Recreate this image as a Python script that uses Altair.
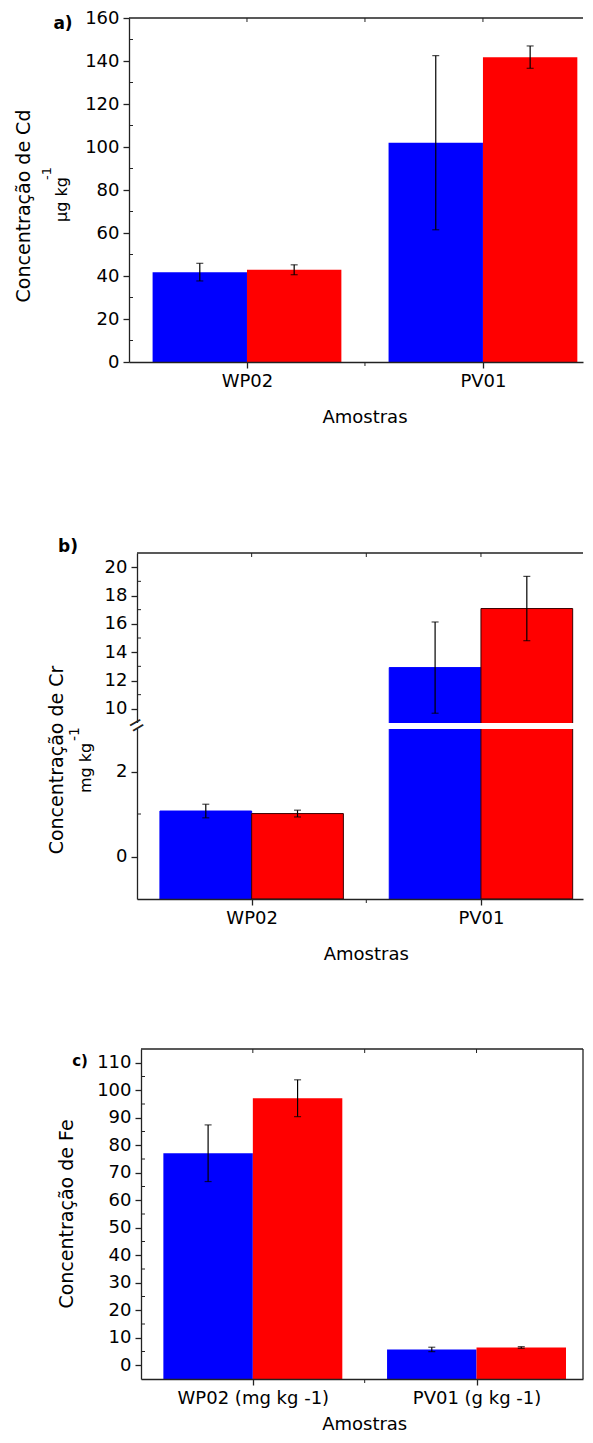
import altair as alt
import pandas as pd

FONT = "DejaVu Sans"
BLUE = "#0000FF"
RED = "#FF0000"
INK = "#222222"
BAR = 0.4

categories = ["WP02", "PV01"]
fe_categories = ["WP02 (mg kg -1)", "PV01 (g kg -1)"]
series = ["S1", "S2"]

# a) Cd (ug kg-1)
cd_blue = [41.8, 102.0]
cd_blue_err = [4.1, 40.5]
cd_red = [42.9, 141.8]
cd_red_err = [2.3, 5.2]
cd_ticks = [0, 20, 40, 60, 80, 100, 120, 140, 160]
cd_minor = [10, 30, 50, 70, 90, 110, 130, 150]

# b) Cr (mg kg-1), broken axis
cr_blue = [1.07, 12.91]
cr_blue_err = [0.16, 3.22]
cr_red = [1.01, 17.08]
cr_red_err = [0.08, 2.27]
cr_ticks = [0, 2, 10, 12, 14, 16, 18, 20]
cr_minor = [1, 11, 13, 15, 17, 19]
cr_break = [3, 9]

# c) Fe
fe_blue = [77.1, 5.75]
fe_blue_err = [10.3, 0.8]
fe_red = [97.1, 6.47]
fe_red_err = [6.7, 0.3]
fe_ticks = [0, 10, 20, 30, 40, 50, 60, 70, 80, 90, 100, 110]
fe_minor = [5, 15, 25, 35, 45, 55, 65, 75, 85, 95, 105]

ONE = pd.DataFrame({"k": [0]})
W = 454


def bar_table(blue, blue_err, red, red_err, base):
    rows = []
    for i, cat in enumerate(categories):
        for s, vals, errs, left in ((series[0], blue, blue_err, i - BAR),
                                    (series[1], red, red_err, i)):
            rows.append({"cat": cat, "serie": s, "x0": left, "x1": left + BAR,
                         "xc": left + BAR / 2, "v": vals[i],
                         "lo": vals[i] - errs[i], "hi": vals[i] + errs[i],
                         "base": base})
    return pd.DataFrame(rows)


def txt(text, x, y, size, angle=0, align="center", baseline="middle", bold=False):
    kw = dict(text=text, font=FONT, fontSize=size, color="black",
              align=align, baseline=baseline)
    if angle:
        kw["angle"] = angle
    if bold:
        kw["fontWeight"] = "bold"
    return alt.Chart(ONE).mark_text(**kw).encode(x=alt.value(x), y=alt.value(y))


def panel(df, labels, xdom, x0px, height, ydom, yticks, yminor, spacer, texts,
          amostras_dy, yrange=None, right_border=False, red_outline=False, brk=None):
    xs = alt.Scale(domain=xdom, range=[x0px, W], nice=False, zero=False)
    yk = dict(domain=ydom, nice=False, zero=False)
    if yrange is not None:
        yk["range"] = yrange
    ys = alt.Scale(**yk)
    common = dict(grid=False, title=None, tickColor=INK, tickWidth=1.3, tickSize=6,
                  domainColor=INK, domainWidth=1.3, labelFont=FONT,
                  labelColor="black", labelOverlap=False, labelFlush=False)
    label_expr = "[" + ", ".join("'%s'" % l for l in labels) + "][datum.value]"
    xax = alt.Axis(values=list(range(len(labels))), labelExpr=label_expr,
                   labelFontSize=18, labelPadding=4, zindex=1, **common)
    yax = alt.Axis(values=yticks, format="d", labelFontSize=18, labelPadding=4,
                   zindex=0, offset=-x0px, **common)

    def X(f):
        return alt.X(f, type="quantitative", scale=xs, axis=xax)

    def Y(f):
        return alt.Y(f, type="quantitative", scale=ys, axis=yax)

    L, T, B = spacer
    layers = [alt.Chart(ONE).mark_rule(opacity=0, strokeWidth=0.1).encode(
        x=alt.value(-L), y=alt.value(-T), y2=alt.value(B))]

    fill = alt.Fill("serie:N", scale=alt.Scale(domain=series, range=[BLUE, RED]), legend=None)
    enc = dict(x=X("x0"), x2=alt.X2("x1"), y=Y("v"), y2=alt.Y2("base"), fill=fill)
    if red_outline:
        enc["stroke"] = alt.Stroke("serie:N", scale=alt.Scale(domain=series, range=[BLUE, "#3a0000"]),
                                   legend=None)
        layers.append(alt.Chart(df).mark_rect(strokeWidth=1).encode(**enc))
    else:
        layers.append(alt.Chart(df).mark_rect().encode(**enc))

    if brk is not None:
        lo, hi = brk
        pv = df[df.cat == categories[1]]
        gap = pd.DataFrame({"a": [pv.x0.min() - 0.006], "b": [pv.x1.max() + 0.006],
                            "lo": [lo], "hi": [hi], "mid": [(lo + hi) / 2]})
        layers.append(alt.Chart(gap).mark_rect(fill="white").encode(
            x=X("a"), x2=alt.X2("b"), y=Y("lo"), y2=alt.Y2("hi")))
        layers.append(alt.Chart(gap).mark_rect(fill="white").encode(
            x=alt.value(x0px - 4), x2=alt.value(x0px + 4), y=Y("lo"), y2=alt.Y2("hi")))
        layers.append(alt.Chart(gap).mark_text(text="=", font="Liberation Sans", fontSize=24,
                                               angle=330, color=INK).encode(
            x=alt.value(x0px), y=Y("mid")))

    layers.append(alt.Chart(df).mark_rule(color="black", strokeWidth=1.2).encode(
        x=X("xc"), y=Y("lo"), y2=alt.Y2("hi")))
    for f in ("lo", "hi"):
        layers.append(alt.Chart(df).mark_tick(orient="horizontal", size=7, thickness=1.2,
                                              color="black").encode(x=X("xc"), y=Y(f)))

    fr = pd.DataFrame({"a": [xdom[0]], "b": [xdom[1]]})
    layers.append(alt.Chart(fr).mark_rule(color=INK, strokeWidth=1.3).encode(
        x=X("a"), x2=alt.X2("b"), y=alt.value(0)))
    if right_border:
        layers.append(alt.Chart(fr).mark_rule(color=INK, strokeWidth=1.3).encode(
            x=X("b"), y=alt.value(0), y2=alt.value(height)))

    top_t = pd.DataFrame({"t": [0, 0.5, 1]})
    layers.append(alt.Chart(top_t).mark_rule(color=INK, strokeWidth=1).encode(
        x=X("t"), y=alt.value(0), y2=alt.value(4)))
    mid_t = pd.DataFrame({"t": [0.5]})
    layers.append(alt.Chart(mid_t).mark_rule(color=INK, strokeWidth=1).encode(
        x=X("t"), y=alt.value(height), y2=alt.value(height + 4)))
    layers.append(alt.Chart(pd.DataFrame({"m": yminor})).mark_rule(color=INK, strokeWidth=1).encode(
        x=alt.value(x0px), x2=alt.value(x0px + 4), y=Y("m")))

    dy, base = amostras_dy
    layers.append(alt.Chart(mid_t).mark_text(text="Amostras", font=FONT, fontSize=18,
                                             color="black", baseline=base).encode(
        x=X("t"), y=alt.value(height + dy)))
    layers.extend(texts)
    return alt.layer(*layers).properties(width=W, height=height)


# panel a
HA = 344
pa = panel(
    bar_table(cd_blue, cd_blue_err, cd_red, cd_red_err, 0),
    categories, [-0.5, 1.424], 0, HA, [0, 160], cd_ticks, cd_minor,
    (121, 10, 452),
    [txt("a)", -66, 6, 17, bold=True),
     txt("Concentração de Cd", -99, 188, 19, angle=270, baseline="alphabetic"),
     txt("μg kg", -62, 204, 16, angle=270, align="left", baseline="alphabetic"),
     txt("-1", -78, 162, 13, angle=270, align="left", baseline="alphabetic")],
    (56, "middle"))

# panel b
HB = 346
pb = panel(
    bar_table(cr_blue, cr_blue_err, cr_red, cr_red_err, -1),
    categories, [-0.5, 1.445], 8, HB, [-1, cr_break[0], cr_break[1], 21], cr_ticks, cr_minor,
    (100, 83, 447),
    [txt("b)", -61, -6, 17, bold=True),
     txt("Concentração de Cr", -66, 207, 19, angle=270, baseline="alphabetic"),
     txt("mg kg", -38, 240, 16, angle=270, align="left", baseline="alphabetic"),
     txt("-1", -50, 188, 14, angle=270, align="left", baseline="alphabetic")],
    (56, "middle"), yrange=[HB, 176, 170, 0], red_outline=True, brk=cr_break)

# panel c
HC = 330
pc = panel(
    bar_table(fe_blue, fe_blue_err, fe_red, fe_red_err, -5),
    fe_categories, [-0.5, 1.476], 12, HC, [-5, 115], fe_ticks, fe_minor,
    (100, 49, HC + 40),
    [txt("c)", -49, 12, 15, bold=True),
     txt("Concentração de Fe", -56, 165, 19, angle=270, baseline="alphabetic")],
    (51, "alphabetic"), right_border=True)

chart = alt.concat(pa, pb, pc, columns=1, spacing=0, align="none").properties(
    padding=0, background="white"
).configure_view(strokeWidth=0)

chart.save("out.html", embed_options={"renderer": "svg", "actions": False})
